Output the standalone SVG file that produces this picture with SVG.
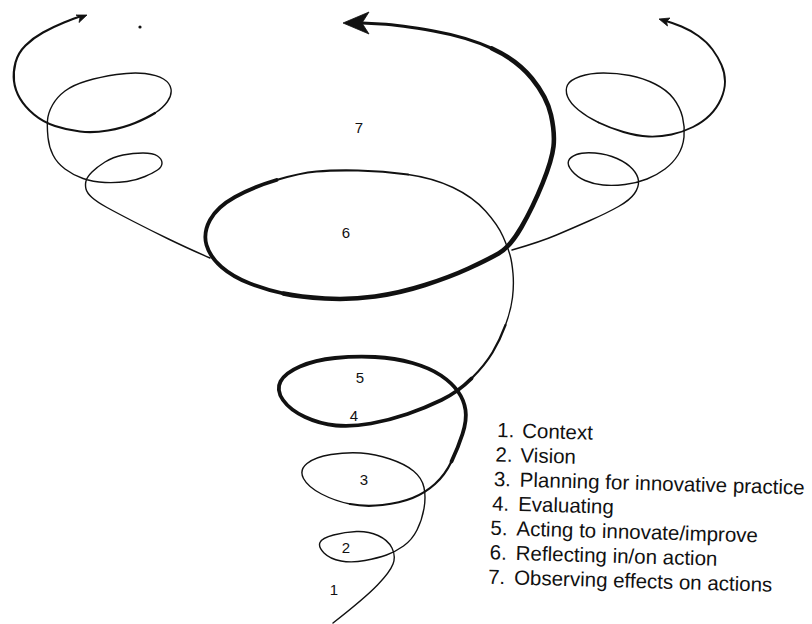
<svg xmlns="http://www.w3.org/2000/svg" width="812" height="624" viewBox="0 0 812 624">
<style>
.ln{fill:none;stroke:#111;stroke-linecap:round;stroke-linejoin:round}
.w1{stroke-width:1.4}
.w2{stroke-width:2.2}
.w3{stroke-width:3.2}
.w4{stroke-width:3.8}
.w5{stroke-width:4.6}
.ah{fill:#111;stroke:#111;stroke-width:0.8;stroke-linejoin:round}
.num{font-family:"Liberation Sans",Arial,sans-serif;font-size:15px;fill:#111;text-anchor:middle}
.leg{font-family:"Liberation Sans",Arial,sans-serif;font-size:20.5px;fill:#111}
</style>
<rect width="812" height="624" fill="#fff"/>
<g id="connectors">
<g id="central-spiral">
<path class="ln w1" d="M333,623 Q365,598 377.5,585 Q390,572 393,564 Q396,556 392,548 Q388,540 378,535.5 Q368,531 356.5,531.5 Q345,532 333.5,535 Q322,538 320,542.5 Q318,547 324,553 Q330,559 341,561 Q352,563 365,560.5 Q378,558 386.5,555 Q395,552 403.5,546 Q412,540 417,530 Q422,520 424,508.5 Q426,497 424,487.5 Q422,478 413.5,471 Q405,464 390,459 Q375,454 361,453 Q347,452 331,454.5 Q315,457 307,463.5 Q299,470 303.5,478.5 Q308,487 321.5,494 Q335,501 350,504"/>
<path class="ln w2" d="M350,504 Q365,507 382.5,505 Q400,503 412.5,498 Q425,493 435,484 Q445,475 451.5,461.5"/>
<path class="ln w4" d="M451.5,461.5 Q458,448 462.5,434 Q467,420 465.5,410 Q464,400 458,391.5 Q452,383 441,375.5 Q430,368 412.5,363 Q395,358 375,357 Q355,356 335,358 Q315,360 300,366.5 Q285,373 280.5,381.5 Q276,390 283,400 Q290,410 305,417 Q320,424 336,425.5 Q352,427 371,423.5 Q390,420 407.5,414 Q425,408 441.5,400 Q458,392 471.5,378.5"/>
<path class="ln w2" d="M471.5,378.5 Q485,365 492.5,352.5 Q500,340 505.5,325"/>
<path class="ln w1" d="M505.5,325 Q511,310 512.5,297.5 Q514,285 513,273.5 Q512,262 510,255 Q508,248 503,236.5 Q498,225 485.5,211 Q473,197 453,187.5 Q433,178 408,174.5"/>
<path class="ln w2" d="M408,174.5 Q383,171 358,170.5 Q333,170 316.5,171.5 Q300,173 276.5,180"/>
<path class="ln w4" d="M276.5,180 Q253,187 235,197 Q217,207 210,220 Q203,233 206.5,245 Q210,257 221.5,267 Q233,277 250,283.5 Q267,290 283.5,293.5"/>
<path class="ln w5" d="M283.5,293.5 Q300,297 325,298.5 Q350,300 375,296.5 Q400,293 425,285 Q450,277 468.5,268.5 Q487,260 498.5,253.5 Q510,247 521.5,227 Q533,207 542.5,183.5 Q552,160 553.5,146.5 Q555,133 551,115 Q547,97 532,78.5 Q517,60 492,48.5"/>
<path class="ln w3" d="M492,48.5 Q467,37 433.5,31 Q400,25 381,24 L362,23"/>
<polygon class="ah" points="343,23 369,12 362,23 369,34"/>
</g>
<g id="left-branch">
<path class="ln w1" d="M210,258 Q187,248 168.5,239 Q150,230 133.5,221.5 Q117,213 107,207.5 Q97,202 92,197.5 Q87,193 86,189 Q85,185 86,181 Q87,177 92,172 Q97,167 105,162 Q113,157 123,155 Q133,153 143,153 Q153,153 157.5,156 Q162,159 162,163 Q162,167 157.5,170 Q153,173 145,176.5 Q137,180 127,181.5 Q117,183 105,182.5 Q93,182 83,178.5 Q73,175 65,169 Q57,163 53,155 Q49,147 48,137.5 Q47,128 47.5,120.5 Q48,113 52.5,105 Q57,97 65,91 Q73,85 86.5,81 Q100,77 116.5,74.5 Q133,72 145,73.5 Q157,75 163.5,79 Q170,83 171,89 Q172,95 167.5,101.5 Q163,108 155,113"/>
<path class="ln w2" d="M155,113 Q147,118 135,123 Q123,128 108,130.5 Q93,133 80,131.5 Q67,130 55,126 Q43,122 34,114.5 Q25,107 20,98.5 Q15,90 14,81 Q13,72 15.5,62.5 Q18,53 25.5,45.5 Q33,38 43,32.5 Q53,27 64,22.5 Q75,18 80,16.5"/>
<polygon class="ah" points="87,15 76,15 80,17.5 79,22.5"/>
</g>
<g id="right-branch">
<path class="ln w1" d="M512,250 Q540,242 556.5,235 Q573,228 590,220.5 Q607,213 618.5,206.5 Q630,200 634.5,193.5 Q639,187 638.5,181 Q638,175 632.5,169 Q627,163 617,158.5 Q607,154 595,153 Q583,152 576.5,154.5 Q570,157 568.5,161 Q567,165 572,171 Q577,177 585,180.5 Q593,184 603,185 Q613,186 625,184.5 Q637,183 647,179 Q657,175 665,169 Q673,163 678,155 Q683,147 684,137 Q685,127 682.5,117 Q680,107 673.5,98.5 Q667,90 655,84 Q643,78 630,75.5 Q617,73 603.5,73 Q590,73 580,76.5 Q570,80 567.5,85 Q565,90 567.5,96.5 Q570,103 578.5,110 Q587,117 598.5,122.5"/>
<path class="ln" stroke-width="1.9" d="M598.5,122.5 Q610,128 623.5,132 Q637,136 648.5,136.5 Q660,137 671.5,134.5 Q683,132 693,127 Q703,122 710,115 Q717,108 721,99 Q725,90 725,81.5 Q725,73 721.5,65 Q718,57 712.5,49.5 Q707,42 698.5,36 Q690,30 681.5,26.5 Q673,23 666,21"/>
<polygon class="ah" points="659,19 670,18 666.5,21.5 667.5,26"/>
</g>
</g>
<circle cx="140" cy="27" r="1.6" fill="#111"/>
<g id="labels">
<text class="num" x="359" y="133">7</text>
<text class="num" x="346" y="238">6</text>
<text class="num" x="360" y="383">5</text>
<text class="num" x="354" y="421">4</text>
<text class="num" x="364" y="485">3</text>
<text class="num" x="346" y="553">2</text>
<text class="num" x="334" y="595">1</text>
</g>
<g id="legend" transform="rotate(1.6 497 437)">
<text class="leg" y="437"><tspan x="497">1.</tspan><tspan x="522">Context</tspan></text>
<text class="leg" y="461.5"><tspan x="496">2.</tspan><tspan x="521">Vision</tspan></text>
<text class="leg" y="486"><tspan x="495">3.</tspan><tspan x="521">Planning for innovative practice</tspan></text>
<text class="leg" y="510.5"><tspan x="494">4.</tspan><tspan x="520">Evaluating</tspan></text>
<text class="leg" y="535"><tspan x="493">5.</tspan><tspan x="519">Acting to innovate/improve</tspan></text>
<text class="leg" y="559.5"><tspan x="493">6.</tspan><tspan x="519">Reflecting in/on action</tspan></text>
<text class="leg" y="584"><tspan x="492">7.</tspan><tspan x="518">Observing effects on actions</tspan></text>
</g>
</svg>
